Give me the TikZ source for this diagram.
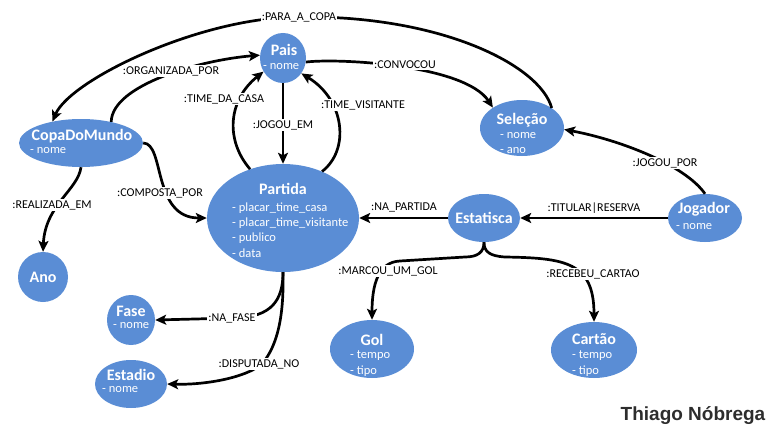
\documentclass[tikz,border=0pt]{standalone}
\usepackage{fontspec}
\setmainfont{Carlito}
\newfontfamily\authfont{Liberation Sans}
\usetikzlibrary{shapes.geometric,arrows.meta}
\definecolor{entblue}{RGB}{90,141,213}
\definecolor{authgray}{RGB}{45,45,45}
\tikzset{
  ent/.style={ellipse, fill=entblue, draw=none, inner sep=0pt},
  ttl/.style={text=white, font=\fontsize{16}{16}\selectfont\bfseries, inner sep=0pt},
  att/.style={text=white, font=\fontsize{12.5}{13}\selectfont, inner sep=0pt, anchor=west},
  lbl/.style={fill=white, text=black, font=\fontsize{12}{12}\selectfont, inner sep=1pt},
  rel/.style={line width=2.7pt, draw=black, -{Stealth[length=11pt,width=10pt,inset=2.5pt]}},
}
\begin{document}
\begin{tikzpicture}[x=1pt,y=-1pt]
\useasboundingbox (0,0) rectangle (773,436);
% entities
\node[ent, minimum width=46pt, minimum height=50pt] (pais) at (283,58) {};
\node[ent, minimum width=124pt, minimum height=48pt] (copa) at (81,143) {};
\node[ent, minimum width=152pt, minimum height=108pt] (part) at (283,218) {};
\node[ent, minimum width=84pt, minimum height=56pt] (sel) at (522,128) {};
\node[ent, minimum width=74pt, minimum height=48pt] (jog) at (705,218) {};
\node[ent, minimum width=72pt, minimum height=48pt] (est) at (484,218) {};
\node[ent, minimum width=50pt, minimum height=50pt] (ano) at (43,277) {};
\node[ent, minimum width=48pt, minimum height=50pt] (fase) at (131,320) {};
\node[ent, minimum width=72pt, minimum height=48pt] (stad) at (131,384) {};
\node[ent, minimum width=84pt, minimum height=58pt] (gol) at (372,349) {};
\node[ent, minimum width=86pt, minimum height=56pt] (car) at (594,350) {};
% entity texts
\node[ttl] (paisT) at (284,50) {Pais};
\node[att] (paisA) at (263,67) {- nome};
\node[ttl] (copaT) at (82,136) {CopaDoMundo};
\node[att] (copaA) at (30,151) {- nome};
\node[ttl] (partT) at (283,189) {Partida};
\node[att] (partA1) at (232,208) {- placar\_time\_casa};
\node[att] (partA2) at (232,223) {- placar\_time\_visitante};
\node[att] (partA3) at (232,238) {- publico};
\node[att] (partA4) at (232,253) {- data};
\node[ttl] (selT) at (522,120) {Seleção};
\node[att] (selA1) at (500,136) {- nome};
\node[att] (selA2) at (500,151) {- ano};
\node[ttl] (jogT) at (704,209) {Jogador};
\node[att] (jogA) at (676,227) {- nome};
\node[ttl] (estT) at (484,218) {Estatisca};
\node[ttl] (anoT) at (43,277) {Ano};
\node[ttl] (faseT) at (131,311) {Fase};
\node[att] (faseA) at (113,326) {- nome};
\node[ttl] (stadT) at (131,375) {Estadio};
\node[att] (stadA) at (102,390) {- nome};
\node[ttl] (golT) at (372,340) {Gol};
\node[att] (golA1) at (350,356) {- tempo};
\node[att] (golA2) at (350,371) {- tipo};
\node[ttl] (carT) at (594,339) {Cartão};
\node[att] (carA1) at (572,356) {- tempo};
\node[att] (carA2) at (572,371) {- tipo};
% label positions
\coordinate (cpara) at (299,17);
% connectors
\draw[rel] (sel.34) .. controls (540,65) and (440,15) .. (cpara) .. controls (200,17) and (70,80) .. (copa.143);
\draw[rel] (copa.35) .. controls (112,85) and (200,60) .. (pais.173);
\draw[rel] (pais.-10) .. controls (340,58) and (465,65) .. (sel.145);
\draw[rel] (part.124) .. controls (225,140) and (228,100) .. (pais.215);
\draw[rel] (pais.south) -- (part.north);
\draw[rel] (part.50) .. controls (350,150) and (345,100) .. (pais.-40);
\draw[rel] (copa.0) .. controls (165,143) and (152,218) .. (part.180);
\draw[rel] (copa.south) .. controls (78,190) and (45,205) .. (ano.north);
\draw[rel] (est.west) -- (part.east);
\draw[rel] (jog.west) -- (est.east);
\draw[rel] (jog.north) .. controls (685,165) and (620,140) .. (sel.-2);
\draw[rel] (est.south) .. controls (484,252) and (478,257) .. (465,257) -- (400,261) .. controls (378,262) and (372,285) .. (gol.north);
\draw[rel] (est.south) .. controls (484,252) and (490,256) .. (505,257) .. controls (565,258) and (594,262) .. (car.north);
\draw[rel] (part.south) .. controls (283,300) and (272,317) .. (235,318) -- (fase.east);
\draw[rel] (part.south) .. controls (284,315) and (278,345) .. (262,364) .. controls (245,378) and (205,385) .. (stad.east);
% labels
\node[lbl] (lpara) at (cpara) {:PARA\_A\_COPA};
\node[lbl] (lorg) at (171,71) {:ORGANIZADA\_POR};
\node[lbl] (lconv) at (405,65) {:CONVOCOU};
\node[lbl] (ltdc) at (224,99) {:TIME\_DA\_CASA};
\node[lbl] (ljoe) at (283,125) {:JOGOU\_EM};
\node[lbl] (lvis) at (363,105) {:TIME\_VISITANTE};
\node[lbl] (lcomp) at (160,193) {:COMPOSTA\_POR};
\node[lbl] (lreal) at (52,205) {:REALIZADA\_EM};
\node[lbl] (lnap) at (404,207) {:NA\_PARTIDA};
\node[lbl] (ltit) at (594,208) {:TITULAR|RESERVA};
\node[lbl] (ljp) at (665,163) {:JOGOU\_POR};
\node[lbl] (lmug) at (388,271) {:MARCOU\_UM\_GOL};
\node[lbl] (lrc) at (593,274) {:RECEBEU\_CARTAO};
\node[lbl] (lfase) at (232,318) {:NA\_FASE};
\node[lbl] (ldisp) at (259,364) {:DISPUTADA\_NO};
% author
\node[text=authgray, font=\authfont\bfseries\fontsize{19}{19}\selectfont, inner sep=0pt] (author) at (693,416) {Thiago Nóbrega};
\end{tikzpicture}
\end{document}
